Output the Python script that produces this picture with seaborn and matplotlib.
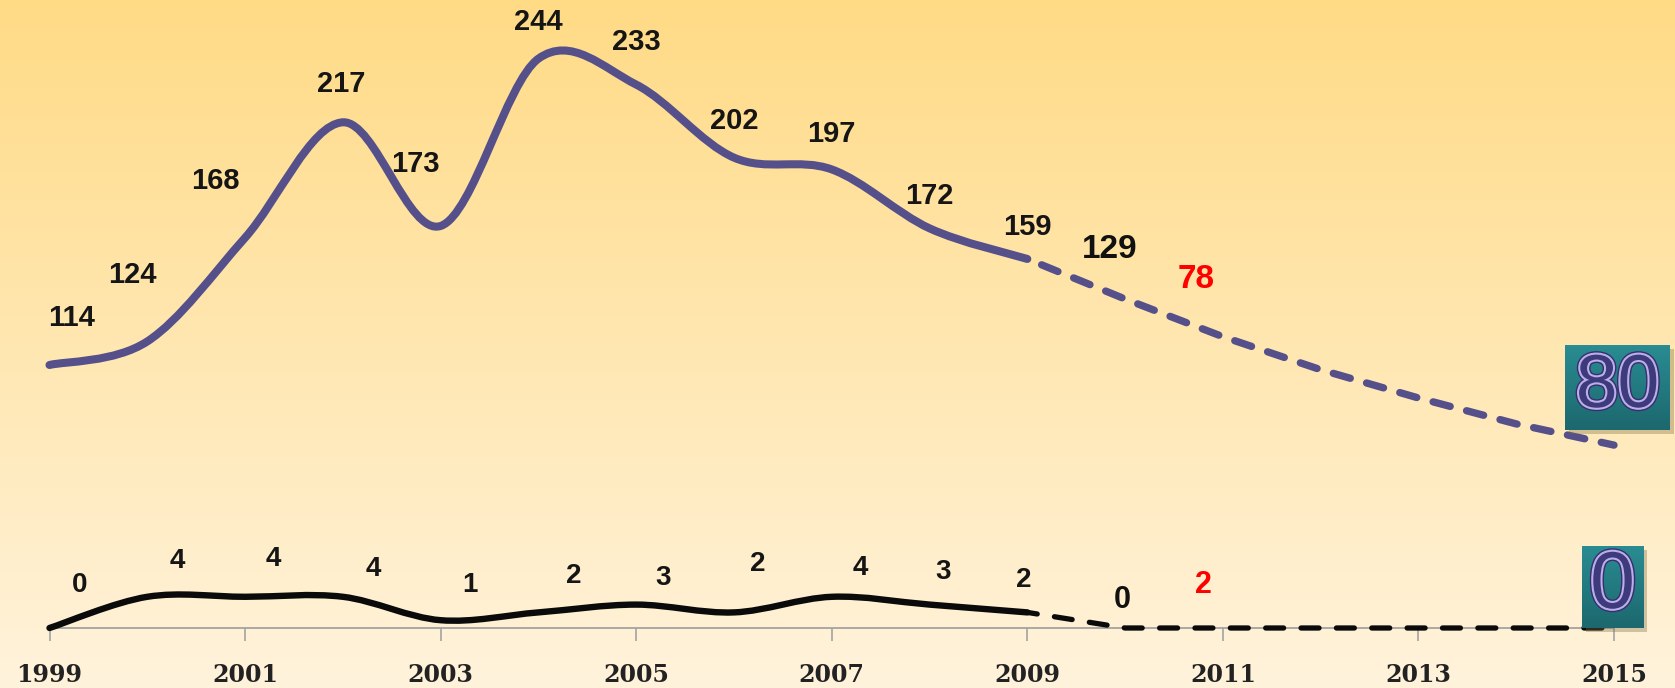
import numpy as np
import matplotlib
matplotlib.use("Agg")
import matplotlib.pyplot as plt
import matplotlib.patheffects as pe
from matplotlib.path import Path
from matplotlib.patches import PathPatch, Rectangle
import seaborn as sns


# ── Data ────────────────────────────────────────────────
YEARS       = [1999, 2000, 2001, 2002, 2003, 2004, 2005, 2006, 2007, 2008, 2009]
UPPER       = [114, 124, 168, 217, 173, 244, 233, 202, 197, 172, 159]
LOWER       = [0, 4, 4, 4, 1, 2, 3, 2, 4, 3, 2]

PROJ_YEARS  = [2009, 2010, 2011, 2012, 2013, 2014, 2015]
UPPER_PROJ  = [159, 142, 126, 112, 100, 89, 80]
LOWER_PROJ  = [2, 0, 0, 0, 0, 0, 0]

EXTRA_YEARS  = [2010, 2011]
UPPER_EXTRA  = [129, 78]
LOWER_EXTRA  = [0, 2]
EXTRA_COLORS = ["#111111", "#ff0000"]

XTICKS = [1999, 2001, 2003, 2005, 2007, 2009, 2011, 2013, 2015]

# ── Layout / style ──────────────────────────────────────
W, H        = 1675, 688
UP_COLOR    = "#55508a"
LOW_COLOR   = "#0a0a0a"
TXT_COLOR   = "#151515"

UPPER_OFFSETS       = [(22, 47), (-15, 66), (-30, 57), (-2, 38), (-25, 62), (0, 37),
                       (0, 43), (0, 37), (0, 35), (0, 32), (0, 32)]
UPPER_EXTRA_OFFSETS = [(-15, 50), (-27, 57)]
LOWER_OFFSETS       = [(30, 43), (30, 36), (28, 38), (30, 28), (29, 35), (35, 36),
                       (27, 27), (24, 48), (29, 29), (14, 33), (-4, 32)]
LOWER_EXTRA_OFFSETS = [(-3, 28), (-19, 43)]


def smooth_path(xs, ys):
    # Catmull-Rom style bezier through the data points (like a smoothed office chart line)
    pts = np.column_stack([xs, ys]).astype(float)
    n = len(pts)
    verts, codes = [pts[0]], [Path.MOVETO]
    for i in range(n - 1):
        p0 = pts[max(i - 1, 0)]
        p1 = pts[i]
        p2 = pts[i + 1]
        p3 = pts[min(i + 2, n - 1)]
        verts += [p1 + (p2 - p0) / 6, p2 - (p3 - p1) / 6, p2]
        codes += [Path.CURVE4] * 3
    return Path(verts, codes)


sns.set_theme(style="white")
plt.rcParams["font.family"] = ["Liberation Sans", "DejaVu Sans"]

fig = plt.figure(figsize=(W / 100, H / 100), dpi=100)

# ── Background gradient ─────────────────────────────────
bg = fig.add_axes([0, 0, 1, 1])
top = np.array([255, 219, 134]) / 255
bot = np.array([255, 243, 220]) / 255
t = np.linspace(0, 1, 256)[:, None]
grad = (top * (1 - t) + bot * t)[:, None, :]
bg.imshow(grad, aspect="auto", extent=[0, 1, 0, 1])
bg.axis("off")
bg.set_zorder(0)

# ── Main axes ───────────────────────────────────────────
x0, x1 = 49.5, 1614
axis_y = 628
ax = fig.add_axes([x0 / W, (H - axis_y) / H, (x1 - x0) / W, axis_y / H])
ax.set_zorder(1)
ax.patch.set_visible(False)
ax.set_xlim(1999, 2015)
ax.set_ylim(2.38, 268.9)

ax2 = ax.twinx()
ax2.set_zorder(2)
ax2.patch.set_visible(False)
ax2.set_ylim(0, 80.5)

# solid smoothed lines
ax.add_patch(PathPatch(smooth_path(YEARS, UPPER), facecolor="none", edgecolor=UP_COLOR,
                       lw=5.8, capstyle="round", joinstyle="round", clip_on=False))
ax2.add_patch(PathPatch(smooth_path(YEARS, LOWER), facecolor="none", edgecolor=LOW_COLOR,
                        lw=4.6, capstyle="round", joinstyle="round", clip_on=False))

# dashed projections
sns.lineplot(x=PROJ_YEARS, y=UPPER_PROJ, ax=ax, color=UP_COLOR, linewidth=5.3,
             linestyle=(2.6, (2.4, 2.3)), dash_capstyle="round", clip_on=False)
sns.lineplot(x=PROJ_YEARS, y=LOWER_PROJ, ax=ax2, color=LOW_COLOR, linewidth=3.8,
             linestyle=(1.5, (3.4, 3.3)), dash_capstyle="round", clip_on=False)

# ── Value labels ────────────────────────────────────────
for yr, v, off in zip(YEARS, UPPER, UPPER_OFFSETS):
    ax.annotate(str(v), (yr, v), xytext=off, textcoords="offset pixels", ha="center",
                va="center", fontsize=21, fontweight="bold", color=TXT_COLOR,
                annotation_clip=False)
for yr, v, off, c in zip(EXTRA_YEARS, UPPER_EXTRA, UPPER_EXTRA_OFFSETS, EXTRA_COLORS):
    yv = UPPER_PROJ[PROJ_YEARS.index(yr)]
    ax.annotate(str(v), (yr, yv), xytext=off, textcoords="offset pixels", ha="center",
                va="center", fontsize=24, fontweight="bold", color=c, annotation_clip=False)

for yr, v, off in zip(YEARS, LOWER, LOWER_OFFSETS):
    ax2.annotate(str(v), (yr, v), xytext=off, textcoords="offset pixels", ha="center",
                 va="center", fontsize=20, fontweight="bold", color=TXT_COLOR,
                 annotation_clip=False)
for yr, v, off, c in zip(EXTRA_YEARS, LOWER_EXTRA, LOWER_EXTRA_OFFSETS, EXTRA_COLORS):
    yv = LOWER_PROJ[PROJ_YEARS.index(yr)]
    ax2.annotate(str(v), (yr, yv), xytext=off, textcoords="offset pixels", ha="center",
                 va="center", fontsize=22, fontweight="bold", color=c, annotation_clip=False)

# ── Axis styling ────────────────────────────────────────
for a in (ax, ax2):
    for s in ("top", "right", "left"):
        a.spines[s].set_visible(False)
ax2.spines["bottom"].set_visible(False)
ax2.set_yticks([])
ax2.set_ylabel("")
ax.set_yticks([])
ax.set_ylabel("")
ax.spines["bottom"].set_color("#a3a3a3")
ax.spines["bottom"].set_linewidth(1.3)
ax.set_xticks(XTICKS)
ax.set_xticklabels([str(x) for x in XTICKS], fontfamily="DejaVu Serif",
                   fontweight="bold", fontsize=17, color="#222222")
ax.tick_params(axis="x", bottom=True, length=9, width=1.2, color="#a3a3a3",
               direction="out", pad=16)

# ── End value boxes ─────────────────────────────────────
def value_box(left, top_px, w, h, text, size):
    shadow = Rectangle(((left + 4) / W, (H - top_px - h - 4) / H), w / W, h / H,
                       transform=fig.transFigure, facecolor="#7a6a40", alpha=0.35,
                       edgecolor="none", zorder=3)
    fig.add_artist(shadow)
    bax = fig.add_axes([left / W, (H - top_px - h) / H, w / W, h / H])
    bax.set_zorder(4)
    tg = np.linspace(0, 1, 64)[:, None]
    c_top = np.array([41, 140, 146]) / 255
    c_bot = np.array([28, 104, 110]) / 255
    bax.imshow((c_top * (1 - tg) + c_bot * tg)[:, None, :], aspect="auto",
               extent=[0, 1, 0, 1])
    bax.axis("off")
    bax.text(0.5, 0.5, text, transform=bax.transAxes, ha="center", va="center",
             fontsize=size, color="#3f3a7c", fontfamily="Liberation Sans",
             path_effects=[pe.Stroke(linewidth=5, foreground="#3a2d6c"),
                           pe.Stroke(linewidth=3, foreground="#b8b0ea"),
                           pe.Normal()])


value_box(1565, 345, 105, 85, str(UPPER_PROJ[-1]), 54)
value_box(1582, 546, 61, 82, str(LOWER_PROJ[-1]), 58)

fig.savefig("out.png", dpi=100)
